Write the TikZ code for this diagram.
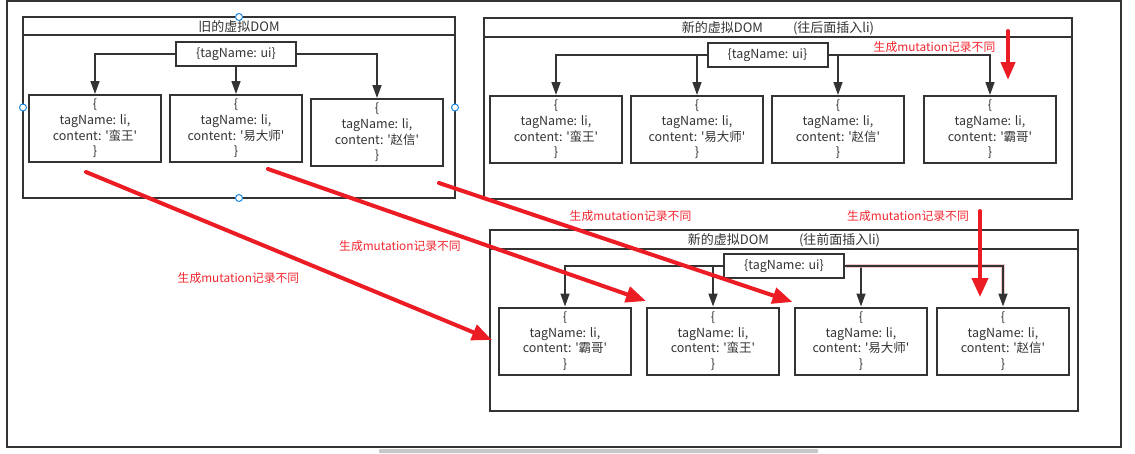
\documentclass[tikz,border=0pt]{standalone}
\usepackage{fontspec}
\newfontfamily\yh{Noto Sans CJK SC}
\usetikzlibrary{arrows.meta}
\definecolor{ink}{HTML}{333333}
\definecolor{redl}{HTML}{EC1C24}
\definecolor{redt}{HTML}{F0262E}
\definecolor{handle}{HTML}{1E88E5}
\definecolor{pinkglow}{HTML}{E8B4B4}
\begin{document}
\begin{tikzpicture}[x=1pt,y=-1pt,
  panel/.style={draw=ink, line width=2pt, inner sep=0pt, minimum width=588pt, minimum height=181pt},
  headtxt/.style={inner sep=0pt, text=ink, font=\yh\fontsize{13}{15}\selectfont},
  rootbox/.style={draw=ink, line width=2pt, inner sep=0pt, minimum width=120pt, minimum height=24pt, text=ink, font=\yh\fontsize{12.5}{14}\selectfont},
  itembox/.style={draw=ink, line width=2pt, inner sep=0pt, minimum width=132pt, minimum height=67pt, align=center, text=ink, font=\yh\fontsize{12.5}{15.7}\selectfont},
  conn/.style={draw=ink, line width=1.6pt, -{Triangle[length=13pt,width=9pt]}},
  redarrow/.style={draw=redl, line width=4pt, line cap=round, -{Triangle[length=20pt,width=16pt]}},
  redlabel/.style={inner sep=0pt, text=redt, font=\yh\fontsize{11.8}{13}\selectfont},
  handlept/.style={circle, draw=handle, fill=white, line width=1pt, inner sep=0pt, minimum size=7pt}
]
\useasboundingbox (0,0) rectangle (1135,453);
% outer frame
\draw[ink, line width=2pt] (7,1) rectangle (1121,447);
\fill[black!22, rounded corners=1pt] (379,449) rectangle (818,453);

% ---------- panel 1: old virtual DOM ----------
\node[panel, minimum width=432pt] (p1) at (239,107.5) {};
\draw[ink, line width=2pt] ([yshift=-19pt]p1.north west) -- ([yshift=-19pt]p1.north east);
\node[headtxt] (h1) at (239,27) {旧的虚拟DOM};
\node[rootbox] (r1) at (236,54) {\{tagName: ui\}};
\node[itembox] (a1) at (95,128.5) {\{\\tagName: li,\\content: '蛮王'\\\}};
\node[itembox] (a2) at (236,128.5) {\{\\tagName: li,\\content: '易大师'\\\}};
\node[itembox] (a3) at (377,132.5) {\{\\tagName: li,\\content: '赵信'\\\}};
\draw[conn] (r1.west) -| (a1.north);
\draw[conn] (r1.south) -- (a2.north);
\draw[conn] (r1.east) -| (a3.north);

% ---------- panel 2: append ----------
\node[panel] (p2) at (778,108.3) {};
\draw[ink, line width=2pt] ([yshift=-20pt]p2.north west) -- ([yshift=-20pt]p2.north east);
\node[headtxt] (h2) at (778,28) {新的虚拟DOM\hspace{30pt}(往后面插入li)};
\node[rootbox] (r2) at (767.5,55) {\{tagName: ui\}};
\node[itembox] (b1) at (556,129.5) {\{\\tagName: li,\\content: '蛮王'\\\}};
\node[itembox] (b2) at (697,129.5) {\{\\tagName: li,\\content: '易大师'\\\}};
\node[itembox] (b3) at (838,129.5) {\{\\tagName: li,\\content: '赵信'\\\}};
\node[itembox] (b4) at (990,129.5) {\{\\tagName: li,\\content: '霸哥'\\\}};
\draw[conn] (r2.west) -| (b1.north);
\draw[conn] (r2.west) -| (b2.north);
\draw[conn] (r2.east) -| (b3.north);
\draw[conn] (r2.east) -| (b4.north);

% ---------- panel 3: prepend ----------
\node[panel] (p3) at (784,320.5) {};
\draw[ink, line width=2pt] ([yshift=-20pt]p3.north west) -- ([yshift=-20pt]p3.north east);
\node[headtxt] (h3) at (784,240.5) {新的虚拟DOM\hspace{30pt}(往前面插入li)};
\node[rootbox] (r3) at (784,266) {\{tagName: ui\}};
\node[itembox] (d1) at (565,341) {\{\\tagName: li,\\content: '霸哥'\\\}};
\node[itembox] (d2) at (713,341) {\{\\tagName: li,\\content: '蛮王'\\\}};
\node[itembox] (d3) at (861,341) {\{\\tagName: li,\\content: '易大师'\\\}};
\node[itembox] (d4) at (1003,341) {\{\\tagName: li,\\content: '赵信'\\\}};
\draw[conn] (r3.west) -| (d1.north);
\draw[conn] (r3.west) -| (d2.north);
\draw[conn] (r3.east) -| (d3.north);
\draw[pinkglow, line width=3.6pt, opacity=0.7] ([xshift=1pt]r3.east) -| ([yshift=14pt]d4.north);
\draw[conn] (r3.east) -| (d4.north);

% selection handles of panel 1
\node[handlept] (k1) at (239,17) {};
\node[handlept] (k2) at (23,107.5) {};
\node[handlept] (k3) at (455,107.5) {};
\node[handlept] (k4) at (239,198) {};

% ---------- red arrows ----------
\coordinate (s1) at (86,172);   \coordinate (t1) at (492,340);
\coordinate (s2) at (268,169);  \coordinate (t2) at (646,301);
\coordinate (s3) at (439,183);  \coordinate (t3) at (792.5,302);
\coordinate (s4) at (1008,31);  \coordinate (t4) at (1008,80);
\coordinate (s5) at (980,211);  \coordinate (t5) at (980,297);
\draw[redarrow] (s1) -- (t1);
\draw[redarrow] (s2) -- (t2);
\draw[redarrow] (s3) -- (t3);
\draw[redarrow, -{Triangle[length=18pt,width=14pt]}] (s4) -- (t4);
\draw[redarrow, -{Triangle[length=19pt,width=16pt]}] (s5) -- (t5);

% ---------- red labels ----------
\node[redlabel] (l1) at (934.5,47.5) {生成mutation记录不同};
\node[redlabel] (l2) at (630.5,216) {生成mutation记录不同};
\node[redlabel] (l3) at (908,216) {生成mutation记录不同};
\node[redlabel] (l4) at (238.5,278) {生成mutation记录不同};
\node[redlabel] (l5) at (400,246) {生成mutation记录不同};
\end{tikzpicture}
\end{document}
